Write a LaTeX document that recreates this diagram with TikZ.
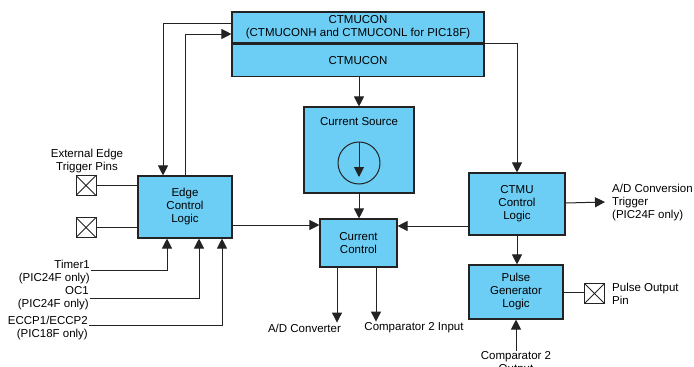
\documentclass[tikz,border=0pt]{standalone}
\usepackage{fontspec}
\setmainfont{Liberation Sans}
\usetikzlibrary{arrows.meta}
\definecolor{ctmublue}{RGB}{108,206,245}
\definecolor{boxline}{RGB}{35,35,35}
\tikzset{
  blk/.style={draw=boxline,line width=1.1pt,fill=ctmublue,align=center,inner sep=0pt,
    font=\fontsize{11.5}{13}\selectfont},
  lbl/.style={inner sep=1pt,font=\fontsize{11.5}{13}\selectfont},
  arr/.style={draw=boxline,line width=1pt,-{Triangle[length=10pt,width=10pt]}},
  wire/.style={draw=boxline,line width=1pt},
  pinbox/.style={draw=boxline,line width=1pt,fill=white,minimum size=20pt,inner sep=0pt,
    path picture={\draw[line width=0.8pt] (path picture bounding box.north west) -- (path picture bounding box.south east)
      (path picture bounding box.north east) -- (path picture bounding box.south west);}}
}
\begin{document}
\begin{tikzpicture}[x=1pt,y=-1pt]
  \useasboundingbox (0,0) rectangle (694,367);
  % register block
  \node[blk,minimum width=252pt,minimum height=31pt] (ctmucon) at (358,27.5)
    {CTMUCON\\(CTMUCONH and CTMUCONL for PIC18F)};
  \node[blk,minimum width=252pt,minimum height=32pt,anchor=north] (ctmuconb) at (ctmucon.south) {CTMUCON};
  % current source
  \node[blk,minimum width=110pt,minimum height=86pt] (src) at (359,150) {};
  \node[lbl] (srclbl) at (359,122) {Current Source};
  \node[draw=boxline,line width=1pt,circle,minimum size=42pt,inner sep=0pt] (isrc) at (359,163) {};
  \draw[arr] ([yshift=21pt]isrc.center) -- ([yshift=-14pt]isrc.center);
  % blocks
  \node[blk,minimum width=77pt,minimum height=48pt] (cc) at (358.5,243) {Current\\Control};
  \node[blk,minimum width=94pt,minimum height=62pt] (edge) at (185,207) {Edge\\Control\\Logic};
  \node[blk,minimum width=96pt,minimum height=62pt] (ctmu) at (517,204) {CTMU\\Control\\Logic};
  \node[blk,minimum width=94pt,minimum height=54pt] (pulse) at (516,292) {Pulse\\Generator\\Logic};
  % pins
  \node[pinbox] (pin1) at (86,185.5) {};
  \node[pinbox] (pin2) at (86,227.5) {};
  \node[pinbox] (ppin) at (594.5,293.5) {};
  \node[lbl,align=center] (extlbl) at (87,161) {External Edge\\Trigger Pins};
  \node[lbl,align=left,anchor=west] (ppinlbl) at (611,294) {Pulse Output\\Pin};
  % outside signals
  \node[lbl,align=right,anchor=east] (t1) at (91,272.5) {Timer1\\(PIC24F only)};
  \node[lbl,align=right,anchor=east] (oc1) at (90,298.5) {OC1\\(PIC24F only)};
  \node[lbl,align=right,anchor=east] (eccp) at (89,328) {ECCP1/ECCP2\\(PIC18F only)};
  \node[lbl,align=left,anchor=west] (trig) at (611,203) {A/D Conversion\\Trigger\\(PIC24F only)};
  \node[lbl] (adc) at (304.5,328) {A/D Converter};
  \node[lbl] (cmpin) at (414,328) {Comparator 2 Input};
  \node[lbl,align=center] (cmpout) at (516,363.5) {Comparator 2\\Output};
  % connectors
  \draw[arr] ([yshift=4.5pt]ctmucon.west) -| ([xshift=-22pt]edge.north);
  \draw[arr] (edge.north) |- ([yshift=-6.5pt]ctmucon.west);
  \draw[arr] (ctmucon.south east) -| (ctmu.north);
  \draw[arr] (src.north |- ctmuconb.south) -- (src.north);
  \draw[arr] (src.south) -- (src.south |- cc.north);
  \draw[arr] ([yshift=-18pt]edge.east) -- ([yshift=-18pt]edge.east -| cc.west);
  \draw[arr] ([yshift=-22pt]ctmu.west) -- ([yshift=-22pt]ctmu.west -| cc.east);
  \draw[arr] ([yshift=1pt]ctmu.east) -- ([xshift=-6pt,yshift=1pt]trig.west);
  \draw[arr] (ctmu.south) -- (ctmu.south |- pulse.north);
  \draw[wire] (pulse.east) -- (pulse.east -| ppin.west);
  \draw[arr] (cmpout.north) -- (cmpout.north |- pulse.south);
  \draw[arr] ([xshift=-21.5pt]cc.south) -- ([xshift=-21.5pt]cc.south |- adc.north);
  \draw[arr] ([xshift=17.5pt]cc.south) -- ([xshift=17.5pt]cc.south |- cmpin.north);
  \draw[wire] (pin1.east) -- (pin1.east -| edge.west);
  \draw[wire] (pin2.east) -- (pin2.east -| edge.west);
  \draw[arr] ([yshift=2.5pt]t1.east) -| ([xshift=-18pt]edge.south);
  \draw[arr] (oc1.east) -| ([xshift=14pt]edge.south);
  \draw[arr] ([yshift=3pt]eccp.east) -| ([xshift=37pt]edge.south);
\end{tikzpicture}
\end{document}
